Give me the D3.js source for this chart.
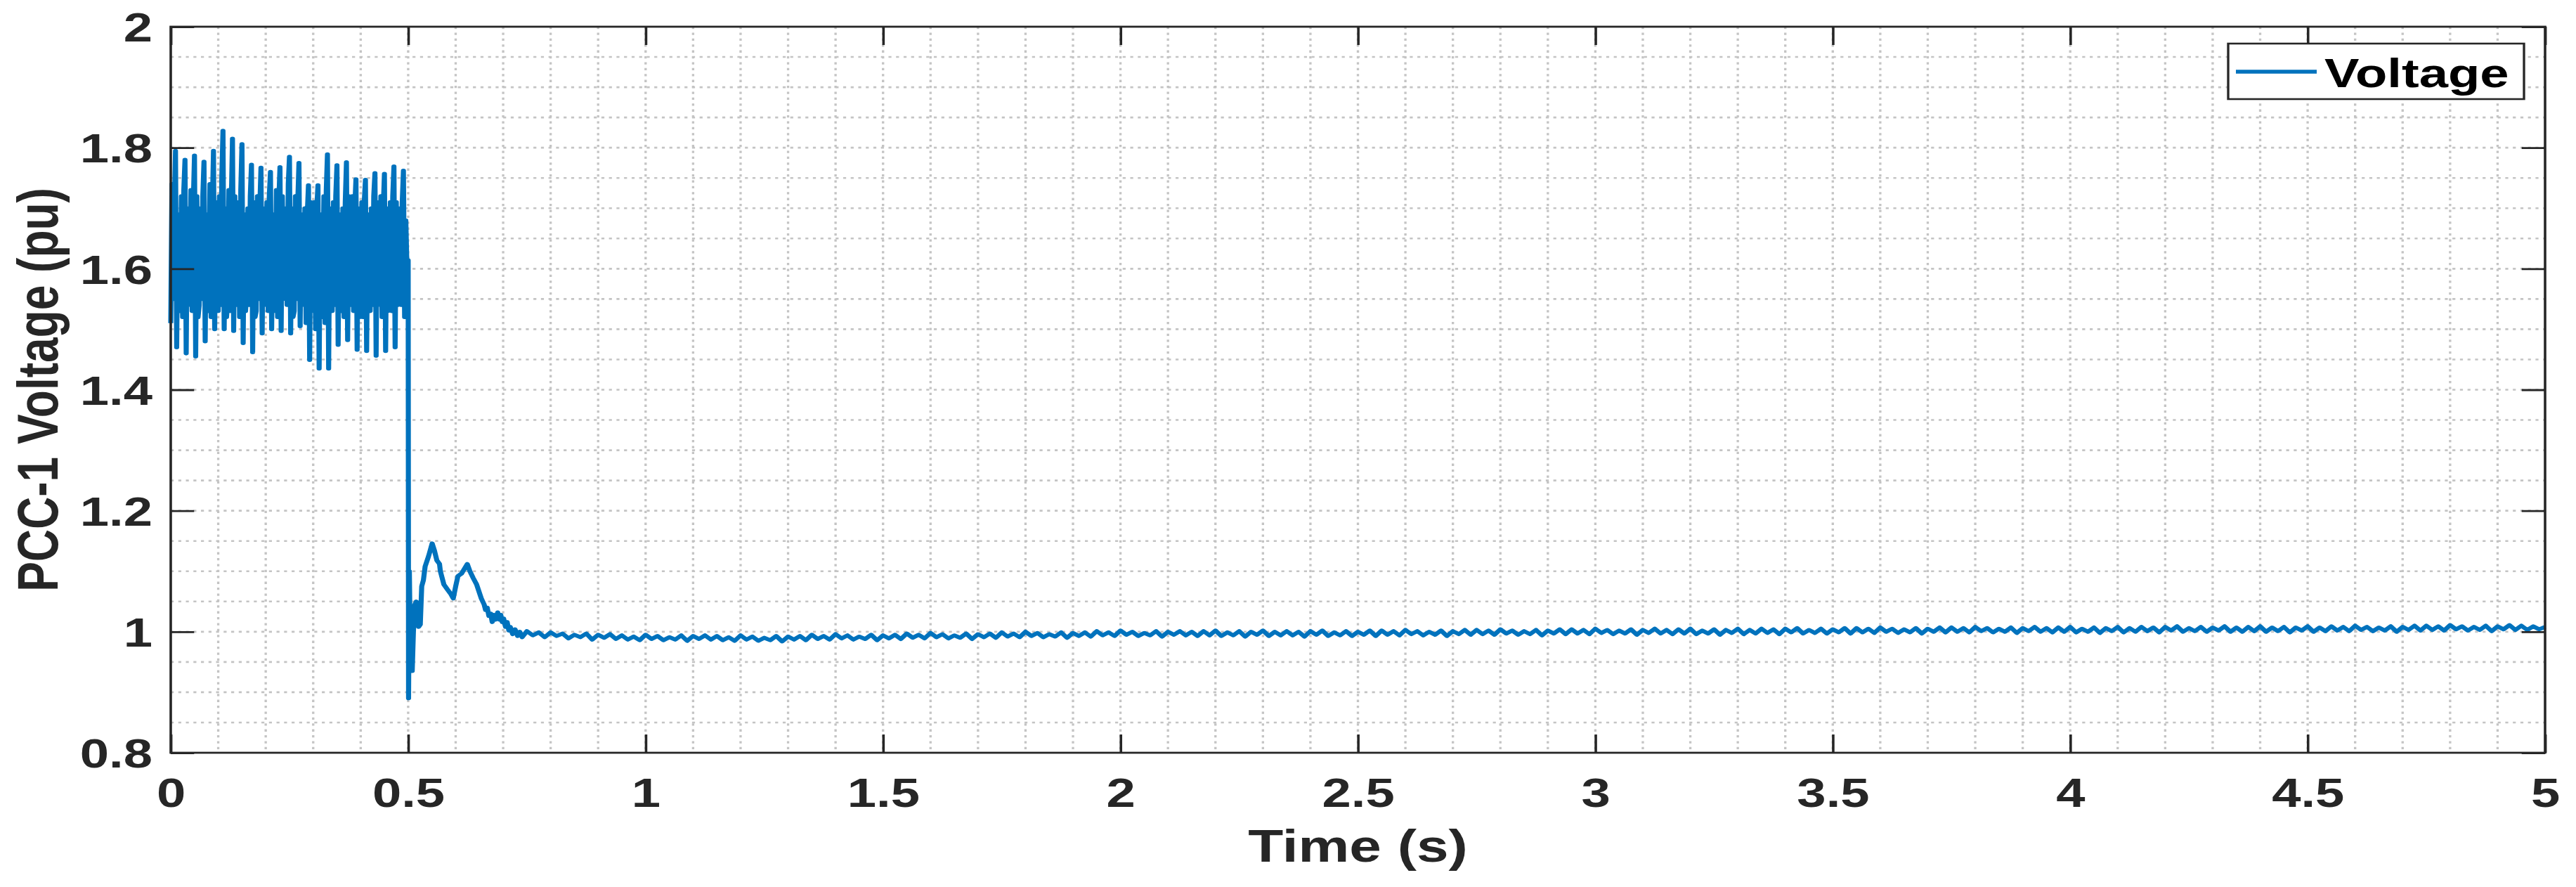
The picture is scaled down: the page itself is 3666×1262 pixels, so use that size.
<!DOCTYPE html>
<html><head><meta charset="utf-8">
<script src="https://cdn.jsdelivr.net/npm/d3@7"></script>
<style>html,body{margin:0;padding:0;background:#fff;} svg{display:block;}</style>
</head><body><svg id="chart"></svg>
<script>
// ---------- data ----------
const xTicks = [0, 0.5, 1, 1.5, 2, 2.5, 3, 3.5, 4, 4.5, 5];
const xTickLabels = ["0", "0.5", "1", "1.5", "2", "2.5", "3", "3.5", "4", "4.5", "5"];
const yTicks = [0.8, 1, 1.2, 1.4, 1.6, 1.8, 2];
const yTickLabels = ["0.8", "1", "1.2", "1.4", "1.6", "1.8", "2"];
const seriesName = "Voltage";
const xLabel = "Time (s)";
const yLabel = "PCC-1 Voltage (pu)";

// 0 - 0.5 s : oscillating voltage, one sample every 0.0025 s (8 per 50 Hz cycle)
const oscStep = 0.0025;
const oscValues = [
  1.51, 1.74, 1.55, 1.70, 1.795, 1.470, 1.69, 1.53,
  1.56, 1.72, 1.52, 1.73, 1.780, 1.460, 1.70, 1.54,
  1.55, 1.73, 1.53, 1.71, 1.787, 1.455, 1.72, 1.52,
  1.54, 1.70, 1.55, 1.72, 1.777, 1.480, 1.69, 1.53,
  1.56, 1.74, 1.52, 1.70, 1.795, 1.500, 1.71, 1.54,
  1.53, 1.72, 1.54, 1.75, 1.828, 1.500, 1.70, 1.52,
  1.55, 1.73, 1.53, 1.71, 1.815, 1.497, 1.72, 1.54,
  1.54, 1.71, 1.52, 1.73, 1.806, 1.477, 1.69, 1.53,
  1.56, 1.70, 1.54, 1.72, 1.772, 1.462, 1.71, 1.52,
  1.53, 1.72, 1.55, 1.70, 1.767, 1.493, 1.70, 1.54,
  1.55, 1.71, 1.53, 1.72, 1.760, 1.500, 1.69, 1.53,
  1.54, 1.73, 1.52, 1.71, 1.768, 1.497, 1.72, 1.55,
  1.56, 1.70, 1.54, 1.74, 1.785, 1.493, 1.70, 1.52,
  1.53, 1.72, 1.55, 1.71, 1.775, 1.505, 1.69, 1.54,
  1.55, 1.70, 1.51, 1.69, 1.738, 1.449, 1.71, 1.53,
  1.54, 1.71, 1.50, 1.70, 1.738, 1.435, 1.69, 1.52,
  1.56, 1.72, 1.51, 1.73, 1.789, 1.435, 1.70, 1.54,
  1.53, 1.71, 1.54, 1.72, 1.771, 1.474, 1.69, 1.53,
  1.55, 1.70, 1.52, 1.71, 1.776, 1.482, 1.72, 1.54,
  1.54, 1.72, 1.53, 1.70, 1.748, 1.466, 1.70, 1.52,
  1.56, 1.71, 1.52, 1.71, 1.747, 1.464, 1.69, 1.53,
  1.53, 1.70, 1.54, 1.72, 1.758, 1.456, 1.71, 1.54,
  1.55, 1.72, 1.52, 1.70, 1.757, 1.464, 1.70, 1.53,
  1.54, 1.71, 1.53, 1.72, 1.769, 1.470, 1.71, 1.54,
  1.56, 1.70, 1.54, 1.71, 1.762, 1.520, 1.68, 1.60
];

// 0.5 - 0.74 s : fault clearing transient
const transTime = [0.5000, 0.5008, 0.5025, 0.5045, 0.5065, 0.5085, 0.5110, 0.5140, 0.5170, 0.5200,
  0.5220, 0.5255, 0.5285, 0.5320, 0.5357, 0.5400, 0.5430, 0.5505, 0.5550, 0.5604,
  0.5660, 0.5678, 0.5752, 0.5826, 0.5900, 0.5949, 0.6000, 0.6048, 0.6122, 0.6245,
  0.6300, 0.6368, 0.6442, 0.6540, 0.6600, 0.6630, 0.6664, 0.6700, 0.6738, 0.6770,
  0.6800, 0.6840, 0.6885, 0.6920, 0.6950, 0.6980, 0.7010, 0.7050, 0.7084, 0.7120,
  0.7150, 0.7200, 0.7250, 0.7305, 0.7350, 0.7400];
const transValues = [1.614, 0.890, 1.100, 0.970, 1.020, 0.935, 1.000, 1.045, 1.050, 1.045,
  1.008, 1.012, 1.075, 1.085, 1.108, 1.118, 1.125, 1.146, 1.135, 1.118,
  1.112, 1.100, 1.078, 1.070, 1.062, 1.055, 1.075, 1.092, 1.096, 1.112,
  1.100, 1.089, 1.078, 1.055, 1.045, 1.036, 1.040, 1.026, 1.030, 1.016,
  1.028, 1.020, 1.032, 1.020, 1.028, 1.016, 1.022, 1.008, 1.016, 1.002,
  1.008, 0.996, 1.004, 0.993, 1.000, 0.991];

// 0.75 - 5 s : settled voltage with small ripple, one sample every 0.0125 s
const steadyStart = 0.75;
const steadyStep = 0.0125;
const steadyValues = [
  1.001, 0.994, 0.999, 0.991, 0.999, 0.993, 0.997, 0.989, 0.995, 0.991, 0.997, 0.987, 0.995, 0.990, 0.996, 0.988,
  0.994, 0.987, 0.992, 0.986, 0.995, 0.988, 0.993, 0.986, 0.991, 0.987, 0.994, 0.985, 0.993, 0.988, 0.994, 0.987,
  0.993, 0.986, 0.991, 0.985, 0.994, 0.987, 0.992, 0.985, 0.990, 0.986, 0.993, 0.984, 0.992, 0.987, 0.993, 0.986,
  0.995, 0.988, 0.993, 0.987, 0.996, 0.989, 0.994, 0.987, 0.992, 0.988, 0.995, 0.986, 0.994, 0.989, 0.995, 0.988,
  0.997, 0.990, 0.995, 0.989, 0.998, 0.991, 0.996, 0.989, 0.994, 0.990, 0.997, 0.988, 0.996, 0.991, 0.997, 0.990,
  0.999, 0.992, 0.997, 0.991, 1.000, 0.993, 0.998, 0.991, 0.996, 0.992, 0.999, 0.990, 0.998, 0.993, 0.999, 0.992,
  1.001, 0.994, 0.999, 0.993, 1.002, 0.995, 1.000, 0.993, 0.998, 0.994, 1.001, 0.992, 1.000, 0.995, 1.001, 0.994,
  1.000, 0.993, 1.001, 0.994, 1.002, 0.993, 0.999, 0.994, 1.001, 0.992, 1.000, 0.995, 1.002, 0.993, 1.000, 0.994,
  1.001, 0.994, 1.000, 0.992, 1.001, 0.995, 1.002, 0.993, 0.999, 0.994, 1.001, 0.993, 1.000, 0.995, 1.002, 0.993,
  1.002, 0.995, 1.001, 0.994, 1.003, 0.996, 1.001, 0.994, 1.000, 0.995, 1.002, 0.993, 1.001, 0.996, 1.003, 0.995,
  1.003, 0.996, 1.002, 0.995, 1.004, 0.997, 1.002, 0.995, 1.001, 0.996, 1.003, 0.994, 1.002, 0.997, 1.004, 0.996,
  1.004, 0.997, 1.003, 0.996, 1.005, 0.998, 1.003, 0.996, 1.002, 0.997, 1.004, 0.995, 1.003, 0.998, 1.005, 0.997,
  1.003, 0.996, 1.004, 0.997, 1.005, 0.996, 1.002, 0.997, 1.004, 0.995, 1.003, 0.998, 1.005, 0.996, 1.003, 0.997,
  1.005, 0.998, 1.004, 0.996, 1.005, 0.999, 1.006, 0.997, 1.003, 0.998, 1.005, 0.997, 1.004, 0.999, 1.006, 0.997,
  1.006, 0.999, 1.005, 0.998, 1.007, 1.000, 1.005, 0.998, 1.004, 0.999, 1.006, 0.997, 1.005, 1.000, 1.007, 0.999,
  1.007, 1.000, 1.006, 0.999, 1.008, 1.001, 1.006, 0.999, 1.005, 1.000, 1.007, 0.998, 1.006, 1.001, 1.008, 1.000,
  1.006, 0.999, 1.007, 1.000, 1.008, 0.999, 1.005, 1.000, 1.007, 0.998, 1.006, 1.001, 1.008, 0.999, 1.006, 1.000,
  1.008, 1.001, 1.007, 0.999, 1.008, 1.002, 1.009, 1.000, 1.006, 1.001, 1.008, 1.000, 1.007, 1.002, 1.009, 1.000,
  1.007, 1.000, 1.008, 1.001, 1.009, 1.000, 1.007, 1.001, 1.008, 0.999, 1.007, 1.002, 1.009, 1.000, 1.007, 1.001,
  1.009, 1.002, 1.008, 1.001, 1.010, 1.003, 1.008, 1.001, 1.007, 1.002, 1.009, 1.000, 1.008, 1.003, 1.010, 1.002,
  1.010, 1.003, 1.009, 1.002, 1.011, 1.004, 1.009, 1.002, 1.008, 1.003, 1.010, 1.001, 1.009, 1.004, 1.011, 1.003,
  1.010, 1.003, 1.009, 1.004, 1.008
];

// ---------- layout ----------
const W = 3666, H = 1262;
const SX = 1.28;               // the figure is stretched horizontally
const plotLeft = 243 / SX, plotRight = 3622 / SX, plotTop = 38, plotBottom = 1071;
const axisColor = "#262626";
const lineColor = "#0072BD";
const font = "'Liberation Sans', Arial, Helvetica, sans-serif";

const svg = d3.select("#chart").attr("width", W).attr("height", H);
const g = svg.append("g").attr("transform", `scale(${SX},1)`);

const x = d3.scaleLinear().domain([0, 5]).range([plotLeft, plotRight]);
const y = d3.scaleLinear().domain([0.8, 2]).range([plotBottom, plotTop]);

// grid (dotted, every 0.1 s and every 0.05 pu)
const gridX = x.ticks(50).filter(v => v > 0.001 && v < 4.999);
const gridY = y.ticks(24).filter(v => v > 0.801 && v < 1.999);
const grid = g.append("g").attr("stroke", "#c4c4c4").attr("stroke-width", 2.6)
  .attr("stroke-dasharray", "3.3,5.1");
grid.selectAll("line.gx").data(gridX).join("line").attr("class", "gx")
  .attr("x1", d => x(d)).attr("x2", d => x(d)).attr("y1", plotTop).attr("y2", plotBottom);
grid.selectAll("line.gy").data(gridY).join("line").attr("class", "gy")
  .attr("x1", plotLeft).attr("x2", plotRight).attr("y1", d => y(d)).attr("y2", d => y(d));

// data line
const points = [];
oscValues.forEach((v, i) => points.push([i * oscStep, v]));
transTime.forEach((t, i) => points.push([t, transValues[i]]));
steadyValues.forEach((v, i) => points.push([steadyStart + i * steadyStep, v]));

const line = d3.line().x(d => x(d[0])).y(d => y(d[1]));
g.append("path").datum(points).attr("d", line)
  .attr("fill", "none").attr("stroke", lineColor).attr("stroke-width", 5.6)
  .attr("stroke-linejoin", "round");

// axes box with inner ticks on all four sides
const tickLen = 26;
const axes = g.append("g");
const bottomAxis = d3.axisBottom(x).tickValues(xTicks).tickSizeInner(-tickLen).tickSizeOuter(0)
  .tickFormat((d, i) => xTickLabels[i]);
const topAxis = d3.axisTop(x).tickValues(xTicks).tickSizeInner(-tickLen).tickSizeOuter(0).tickFormat("");
const leftAxis = d3.axisLeft(y).tickValues(yTicks).tickSizeInner(-tickLen).tickSizeOuter(0)
  .tickFormat((d, i) => yTickLabels[i]);
const rightAxis = d3.axisRight(y).tickValues(yTicks).tickSizeInner(-tickLen).tickSizeOuter(0).tickFormat("");

function styleAxis(sel) {
  sel.select(".domain").remove();
  sel.selectAll(".tick line").attr("stroke", axisColor).attr("stroke-width", 2.8);
  sel.selectAll(".tick text").attr("fill", axisColor).attr("font-family", font)
    .attr("font-weight", "bold").attr("font-size", 58);
}
const gb = axes.append("g").attr("transform", `translate(0,${plotBottom})`).call(bottomAxis).call(styleAxis);
gb.selectAll(".tick text").attr("y", 77).attr("dy", 0);
axes.append("g").attr("transform", `translate(0,${plotTop})`).call(topAxis).call(styleAxis);
const gl = axes.append("g").attr("transform", `translate(${plotLeft},0)`).call(leftAxis).call(styleAxis);
gl.selectAll(".tick text").attr("x", -(plotLeft - 169.5)).attr("dy", 0).attr("y", 20.7);
axes.append("g").attr("transform", `translate(${plotRight},0)`).call(rightAxis).call(styleAxis);

axes.append("rect").attr("x", plotLeft).attr("y", plotTop)
  .attr("width", plotRight - plotLeft).attr("height", plotBottom - plotTop)
  .attr("fill", "none").attr("stroke", axisColor).attr("stroke-width", 2.8);

// axis labels
g.append("text").attr("x", (plotLeft + plotRight) / 2).attr("y", 1225.7)
  .attr("text-anchor", "middle").attr("font-family", font).attr("font-weight", "bold")
  .attr("font-size", 64).attr("fill", axisColor).text(xLabel);
g.append("text").attr("transform", `translate(64,${(plotTop + plotBottom) / 2}) rotate(-90)`)
  .attr("text-anchor", "middle").attr("font-family", font).attr("font-weight", "bold")
  .attr("font-size", 64).attr("fill", axisColor).text(yLabel);

// legend
const lg = g.append("g");
lg.append("rect").attr("x", 3171 / SX).attr("y", 62).attr("width", (3592 - 3171) / SX).attr("height", 79)
  .attr("fill", "#fff").attr("stroke", axisColor).attr("stroke-width", 2.6);
lg.append("line").attr("x1", 3182 / SX).attr("x2", 3297 / SX).attr("y1", 102).attr("y2", 102)
  .attr("stroke", lineColor).attr("stroke-width", 5.6);
lg.append("text").attr("x", 3308 / SX).attr("y", 124).attr("font-family", font).attr("font-weight", "bold")
  .attr("font-size", 58).attr("fill", "#000").text(seriesName);
</script>
</body></html>
